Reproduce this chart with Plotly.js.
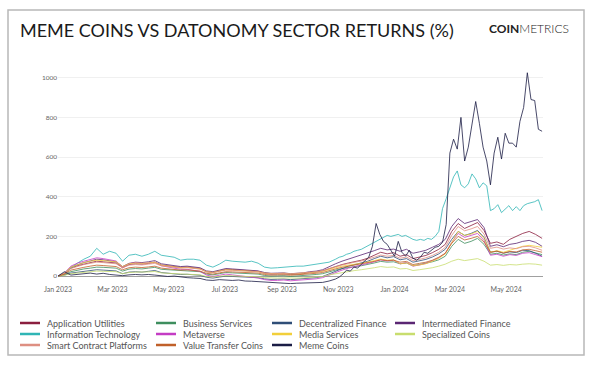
<!DOCTYPE html>
<html><head><meta charset="utf-8">
<script src="https://cdn.plot.ly/plotly-3.0.1.min.js"></script>
<style>html,body{margin:0;padding:0;background:#fff}#chart{width:600px;height:375px}</style>
</head><body><div id="chart"></div>
<script>
// ---------- DATA ----------
const weeks = ['2023-01-01','2023-01-08','2023-01-15','2023-01-22','2023-01-29','2023-02-05','2023-02-12','2023-02-19','2023-02-26','2023-03-05','2023-03-12','2023-03-19','2023-03-26','2023-04-02','2023-04-09','2023-04-16','2023-04-23','2023-04-30','2023-05-07','2023-05-14','2023-05-21','2023-05-28','2023-06-04','2023-06-11','2023-06-18','2023-06-25','2023-07-02','2023-07-09','2023-07-16','2023-07-23','2023-07-30','2023-08-06','2023-08-13','2023-08-20','2023-08-27','2023-09-03','2023-09-10','2023-09-17','2023-09-24','2023-10-01','2023-10-08','2023-10-15','2023-10-22','2023-10-29','2023-11-05','2023-11-12','2023-11-19','2023-11-26','2023-12-03','2023-12-10','2023-12-17','2023-12-24','2023-12-31','2024-01-07','2024-01-14','2024-01-21','2024-01-28','2024-02-04','2024-02-11','2024-02-18','2024-02-25','2024-03-03','2024-03-10','2024-03-17','2024-03-24','2024-03-31','2024-04-07','2024-04-14','2024-04-21','2024-04-28','2024-05-05','2024-05-12','2024-05-19','2024-05-26','2024-06-02','2024-06-09'];

const denseDays = ['2023-01-01','2023-01-08','2023-01-15','2023-01-22','2023-01-29','2023-02-05','2023-02-12','2023-02-19','2023-02-26','2023-03-05','2023-03-12','2023-03-19','2023-03-26','2023-04-02','2023-04-09','2023-04-16','2023-04-23','2023-04-30','2023-05-07','2023-05-14','2023-05-21','2023-05-28','2023-06-04','2023-06-11','2023-06-18','2023-06-25','2023-07-02','2023-07-09','2023-07-16','2023-07-23','2023-07-30','2023-08-06','2023-08-13','2023-08-20','2023-08-27','2023-09-03','2023-09-10','2023-09-17','2023-09-24','2023-10-01','2023-10-08','2023-10-15','2023-10-22','2023-10-29',
'2023-11-02','2023-11-06','2023-11-10','2023-11-14','2023-11-18','2023-11-22','2023-11-26','2023-11-30','2023-12-04','2023-12-08','2023-12-12','2023-12-16','2023-12-20','2023-12-24','2023-12-28',
'2024-01-01','2024-01-05','2024-01-09','2024-01-13','2024-01-17','2024-01-21','2024-01-25','2024-01-29','2024-02-02','2024-02-06','2024-02-10','2024-02-14','2024-02-18','2024-02-22','2024-02-26','2024-03-01','2024-03-05','2024-03-09','2024-03-13','2024-03-17','2024-03-21','2024-03-25','2024-03-29','2024-04-02','2024-04-06','2024-04-10','2024-04-14','2024-04-18','2024-04-22','2024-04-26','2024-04-30','2024-05-04','2024-05-08','2024-05-12','2024-05-16','2024-05-20','2024-05-24','2024-05-28','2024-06-01','2024-06-05','2024-06-09'];

const applicationUtilities = [0,12,40,52,60,68,75,72,70,66,42,58,62,60,64,70,56,52,50,44,46,42,38,22,18,26,34,33,31,29,28,24,14,10,11,12,8,10,12,18,20,26,38,48,58,66,72,80,90,105,120,112,118,
  100,108,88,96,104,118,135,160,225,265,240,255,270,230,165,172,160,185,200,215,225,210,190];
const businessServices = [0,8,22,30,36,40,45,44,42,40,25,35,38,36,40,44,34,32,30,26,27,24,22,10,6,12,18,16,15,14,12,10,3,0,1,2,-2,0,2,6,8,12,22,30,38,44,48,52,58,66,74,70,72,
  62,66,52,58,64,72,82,100,150,185,165,175,190,160,110,115,106,112,108,120,125,118,108];
const decentralizedFinance = [0,5,15,20,25,28,32,30,28,26,12,20,22,20,24,28,18,14,12,8,9,6,4,-6,-10,-5,0,-2,-3,-4,-6,-8,-14,-17,-16,-15,-18,-16,-14,-10,-8,-2,12,25,38,50,58,66,75,88,100,92,98,
  82,88,70,76,84,96,112,135,185,225,205,215,230,195,120,125,115,122,118,130,128,115,100];
const intermediatedFinance = [0,14,45,58,68,76,85,82,78,72,48,64,70,68,72,78,62,58,55,48,50,46,42,26,22,30,38,36,34,32,30,26,18,14,15,16,12,14,16,22,25,32,48,62,75,85,95,105,115,128,140,132,136,
  125,135,115,122,130,145,160,185,250,290,265,275,285,245,150,158,148,160,165,175,180,170,150];
const informationTechnology = [0,15,40,65,85,100,140,110,125,115,75,105,110,100,110,125,105,100,95,80,85,85,80,55,45,60,80,75,72,70,75,65,45,40,42,45,45,50,50,55,60,62,70,85,
  95,100,110,115,125,130,135,145,155,165,175,185,195,205,200,
  205,210,200,205,195,185,180,185,180,190,185,200,225,340,390,440,500,530,460,445,465,515,490,445,470,455,330,340,360,320,340,355,330,350,330,355,365,370,375,385,330];
const metaverse = [0,15,50,65,75,85,92,88,82,76,45,62,68,64,66,70,52,46,42,34,34,30,24,5,-2,4,10,6,2,-2,-6,-10,-18,-22,-22,-20,-24,-22,-20,-16,-14,-8,5,18,30,40,48,55,62,72,82,76,80,
  62,68,50,56,64,78,92,115,170,215,195,205,215,180,105,110,100,108,104,115,118,108,98];
const mediaServices = [0,14,45,58,68,75,80,78,76,72,48,62,66,64,66,70,55,50,48,42,44,40,36,22,18,25,32,30,28,26,24,22,14,12,12,14,10,12,14,18,20,24,34,42,50,56,60,64,70,78,86,80,82,
  62,66,52,56,62,75,90,112,170,225,205,212,225,190,120,128,120,132,140,150,155,150,145];
const specializedCoins = [0,4,12,16,20,22,25,24,23,22,12,18,20,19,21,23,16,14,12,9,10,8,6,-2,-5,-1,2,1,0,-1,-2,-4,-8,-10,-10,-9,-11,-10,-9,-6,-5,-2,6,12,18,24,28,32,36,42,48,44,46,
  36,38,28,32,36,42,50,60,75,85,78,82,88,75,55,58,54,58,56,60,62,60,55];
const smartContractPlatforms = [0,12,38,50,58,64,70,68,66,62,42,55,58,56,60,64,52,48,46,40,42,38,35,22,18,24,30,29,28,26,25,22,15,12,13,14,11,13,15,20,22,27,38,48,56,64,70,76,84,95,106,100,104,
  90,96,78,84,92,104,120,145,205,250,228,238,250,212,140,146,136,142,138,148,150,142,130];
const valueTransferCoins = [0,10,30,38,44,50,55,53,52,48,32,42,45,43,46,50,40,37,35,30,31,28,25,14,10,16,22,21,20,19,18,15,8,5,6,7,4,6,8,12,14,18,28,36,44,50,55,60,66,74,82,78,80,
  70,74,58,64,70,80,95,115,165,200,182,190,200,172,120,126,116,124,122,132,135,128,120];
const memeCoins = [0,22,5,8,12,15,10,14,8,5,2,6,8,6,8,5,0,-2,0,-5,-8,-10,-12,-20,-22,-18,-20,-22,-20,-25,-26,-28,-30,-35,-36,-37,-38,-36,-35,-33,-34,-32,-25,-15,
  -5,10,30,25,45,40,60,80,95,150,265,210,175,160,130,
  100,175,120,100,130,90,80,95,120,115,130,145,150,170,260,620,690,640,800,580,650,770,880,770,650,580,460,620,700,590,720,670,670,650,780,850,1025,890,885,740,730];

const seriesNames = ['Application Utilities','Business Services','Decentralized Finance','Intermediated Finance','Information Technology','Metaverse','Media Services','Specialized Coins','Smart Contract Platforms','Value Transfer Coins','Meme Coins'];
const seriesColors = ['#8b1e3f','#3e8e5e','#2f4e77','#5a2673','#2fb5b5','#c43cc4','#f2cf3a','#c8dd6e','#de8f82','#c0602a','#1b1d45'];
const seriesValues = [applicationUtilities,businessServices,decentralizedFinance,intermediatedFinance,informationTechnology,metaverse,mediaServices,specializedCoins,smartContractPlatforms,valueTransferCoins,memeCoins];
const seriesDates = [weeks,weeks,weeks,weeks,denseDays,weeks,weeks,weeks,weeks,weeks,denseDays];

const yTickVals = [0,200,400,600,800,1000];
const xTickVals = ['2023-01-01','2023-03-01','2023-05-01','2023-07-01','2023-09-01','2023-11-01','2024-01-01','2024-03-01','2024-05-01'];
const xTickText = ['Jan 2023','Mar 2023','May 2023','Jul 2023','Sep 2023','Nov 2023','Jan 2024','Mar 2024','May 2024'];
const titleText = 'MEME COINS VS DATONOMY SECTOR RETURNS (%)';

// ---------- LAYOUT GEOMETRY ----------
const W = 600, H = 375, M = {l:58, r:57, t:68, b:91};
const PW = W - M.l - M.r, PH = H - M.t - M.b;
const px = x => (x - M.l) / PW;
const py = y => (H - M.b - y) / PH;
const FONT = 'Lato, "Open Sans", sans-serif';

const traces = seriesNames.map((n, i) => ({
  type: 'scatter', mode: 'lines', name: n,
  x: seriesDates[i], y: seriesValues[i],
  line: {color: seriesColors[i], width: 1}, opacity: 0.8,
  showlegend: false, hoverinfo: 'skip'
}));

const shapes = [{
  type: 'rect', xref: 'paper', yref: 'paper',
  x0: px(8), x1: px(584), y0: py(355), y1: py(10),
  line: {color: '#b8b8b8', width: 1.5}, layer: 'below'
}];
const annotations = [{
  xref: 'paper', yref: 'paper', x: px(571), y: py(28), xanchor: 'right', yanchor: 'middle',
  text: '<b>COIN</b>METRICS', showarrow: false,
  font: {family: FONT, size: 12, color: '#222', weight: 300}
}];
const colX = [20, 156, 272, 395], rowY = [323, 334, 345];
seriesNames.forEach((n, i) => {
  const c = i % 4, r = Math.floor(i / 4);
  shapes.push({type: 'line', xref: 'paper', yref: 'paper',
    x0: px(colX[c]), x1: px(colX[c] + 20), y0: py(rowY[r]), y1: py(rowY[r]),
    line: {color: seriesColors[i], width: 2.5}});
  annotations.push({xref: 'paper', yref: 'paper', x: px(colX[c] + 25), y: py(rowY[r]),
    xanchor: 'left', yanchor: 'middle', showarrow: false, text: n,
    font: {family: FONT, size: 9, color: '#555'}});
});

const layout = {
  width: W, height: H, margin: M,
  paper_bgcolor: '#fff', plot_bgcolor: '#fff',
  font: {family: FONT, color: '#555'},
  title: {text: titleText, xref: 'container', yref: 'container', x: 20 / W, xanchor: 'left',
    y: 1 - 31 / H, yanchor: 'middle', font: {family: FONT, size: 18, color: '#1a1a1a'}},
  xaxis: {type: 'date', range: ['2023-01-01', '2024-06-10'], tickvals: xTickVals, ticktext: xTickText,
    showgrid: false, showline: false, zeroline: false, ticks: '', tickfont: {size: 7, color: '#666'}, fixedrange: true},
  yaxis: {range: [-40, 1049], tickvals: yTickVals, showgrid: true, gridcolor: '#f0f0f0', gridwidth: 1,
    zeroline: true, zerolinecolor: '#a0a0a0', zerolinewidth: 1, showline: false, ticks: '',
    tickfont: {size: 6.5, color: '#666'}, fixedrange: true},
  showlegend: false,
  shapes: shapes, annotations: annotations
};

Plotly.newPlot('chart', traces, layout, {displayModeBar: false, staticPlot: true});
</script>
</body></html>
